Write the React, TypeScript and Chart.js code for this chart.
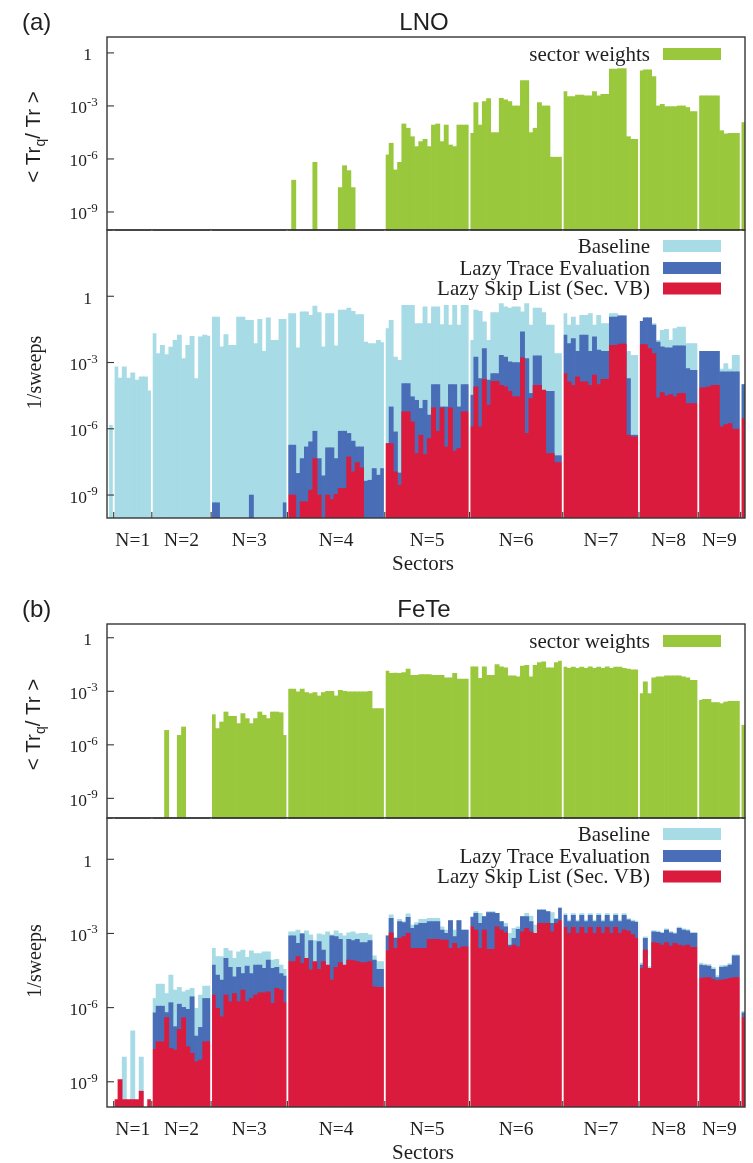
import { useEffect, useRef } from 'react';
import { Chart, registerables } from 'chart.js';

Chart.register(...registerables);

// Number of symmetry sectors in each particle-number block N = 0 … 10
const SECTOR_COUNTS = [1, 9, 14, 18, 23, 20, 22, 18, 14, 10, 1];
const SECTOR_LABELS = ['', 'N=1', 'N=2', 'N=3', 'N=4', 'N=5', 'N=6', 'N=7', 'N=8', 'N=9', ''];
const DECADES = [0, -3, -6, -9];

// ---- LNO: log10 <Tr_q / Tr> per sector (null = below range) ----
const lnoWeight: (number | null)[] = [
  null,
  null, null, null, null, null, null, null, null, null,
  null, null, null, null, null, null, null, null, null, null, null, null, null, null,
  null, null, null, null, null, null, null, null, null, null, null, null, null, null, null, null, null, null,
  null, -7.2, null, null, null, null, -6.19, null, null, null, null, null, -7.62, -6.38, -6.66, -7.62, null, null, null, null, null, null, null,
  -5.77, -5.11, -6.62, -6.19, -4.02, -4.26, -4.74, -5.3, -5.02, -4.89, -5.3, -4.08, -4.02, -5.02, -4.08, -5.21, -5.3, -4.08, -4.08, -4.08,
  -4.55, -2.81, -4.08, -2.75, -2.58, -4.51, -4.51, -2.57, -2.66, -2.75, -3.0, -3.0, -1.57, -1.57, -4.51, -4.26, -2.81, -3.0, -3.0, -5.9, -5.9, -5.9,
  -2.19, -2.47, -2.47, -2.38, -2.38, -2.43, -2.43, -2.19, -2.43, -2.34, -2.34, -0.92, -0.92, -0.89, -0.89, -4.74, -4.89, -4.89,
  -1.02, -0.96, -0.96, -1.34, -3.0, -2.91, -3.04, -3.04, -3.04, -3.0, -3.0, -3.09, -3.32, -3.32,
  -2.43, -2.43, -2.43, -2.43, -2.43, -4.4, -4.58, -4.55, -4.55, -4.55,
  -3.94,
];

// ---- LNO: log10 (1/sweeps) ----
const lnoBaseline: (number | null)[] = [
  -5.84,
  -3.2, -3.7, -3.2, -3.7, -3.47, -3.8, -3.65, -3.65, -4.28,
  -1.69, -2.59, -2.22, -2.64, -2.3, -1.99, -1.76, -2.82, -2.22, -1.81, -3.73, -1.84, -1.76, -1.8,
  -0.94, -0.94, -2.29, -1.73, -2.22, -2.22, -0.94, -0.94, -1.09, -1.09, -2.14, -1.04, -2.49, -0.98, -1.99, -1.99, -1.04, -1.04,
  -0.78, -0.78, -2.34, -0.71, -0.71, -0.86, -0.44, -0.74, -2.29, -0.78, -0.78, -2.25, -0.63, -0.63, -0.53, -0.68, -0.83, -0.83, -2.07, -2.14, -2.14, -1.99, -2.1,
  -1.46, -1.09, -2.75, -2.9, -0.41, -0.41, -0.41, -1.24, -1.24, -0.48, -1.24, -0.48, -0.48, -1.28, -0.41, -1.31, -0.41, -1.31, -0.41, -0.41,
  -1.99, -0.63, -0.68, -1.16, -1.99, -0.74, -0.74, -0.33, -0.48, -0.53, -0.48, -0.48, -0.71, -0.33, -1.31, -0.53, -0.53, -0.74, -1.31, -1.31, -2.59, -2.59,
  -0.78, -1.31, -0.94, -1.31, -0.86, -0.86, -0.78, -1.31, -0.86, -1.24, -1.24, -0.78, -0.78, -0.89, -0.89, -2.49, -2.67, -2.67,
  -1.13, -0.98, -0.98, -1.24, -1.99, -1.54, -1.5, -1.99, -1.46, -1.39, -1.39, -2.14, -2.14, -2.14,
  -2.49, -2.49, -2.49, -2.49, -2.49, -3.3, -3.05, -3.3, -2.67, -2.67,
  -4.0,
];

const lnoLazyTrace: (number | null)[] = [
  null,
  null, null, null, null, null, null, null, null, null,
  null, null, null, null, null, null, null, null, null, null, null, null, null, null,
  -9.35, -9.35, null, null, null, null, null, null, null, -9.0, null, null, null, null, null, null, null, -9.35,
  -6.74, -6.74, -8.02, -7.35, -6.82, -6.59, -6.11, -7.35, -8.13, -6.86, -6.86, -7.35, -6.11, -6.11, -6.21, -6.56, -6.82, -6.82, -8.37, -8.33, -7.8, -8.1, -7.8,
  -6.67, -5.01, -6.14, -8.0, -3.95, -3.95, -4.55, -4.71, -5.08, -4.71, -5.38, -4.0, -4.0, -5.01, -5.01, -4.0, -4.0, -5.01, -4.0, -4.0,
  -4.48, -2.75, -3.73, -2.37, -3.8, -3.5, -3.5, -2.67, -2.75, -2.97, -3.0, -3.0, -1.61, -2.82, -4.4, -2.7, -2.7, -4.33, -4.3, -4.3, -7.22, -7.22,
  -1.76, -2.14, -1.92, -2.49, -1.76, -1.76, -2.49, -1.84, -2.44, -2.49, -2.49, -0.94, -0.94, -0.89, -0.89, -3.73, -6.29, -6.29,
  -1.13, -0.98, -0.98, -1.31, -2.07, -2.29, -2.34, -2.34, -2.25, -2.25, -2.25, -3.27, -3.35, -3.35,
  -2.49, -2.49, -2.49, -2.49, -2.49, -3.42, -3.42, -3.42, -3.42, -3.42,
  -4.0,
];

const lnoLazySkip: (number | null)[] = [
  null,
  null, null, null, null, null, null, null, null, null,
  null, null, null, null, null, null, null, null, null, null, null, null, null, null,
  null, null, null, null, null, null, null, null, null, null, null, null, null, null, null, null, null, null,
  -9.0, -9.0, null, -9.3, -9.3, -8.78, -7.35, -9.0, null, -9.0, -9.2, -8.97, -8.7, -8.7, -7.27, -7.95, -7.53, -7.77, null, null, null, null, null,
  -6.67, -6.67, -7.95, -8.55, -5.23, -5.23, -5.69, -7.12, -6.29, -7.16, -6.44, -5.05, -6.11, -5.05, -6.82, -5.05, -7.01, -6.89, -5.23, -5.23,
  -5.91, -4.1, -5.91, -3.76, -4.93, -3.85, -3.85, -4.03, -4.1, -4.3, -4.55, -4.55, -2.79, -6.21, -4.63, -4.03, -4.03, -4.25, -7.12, -7.12, -7.53, -7.53,
  -3.5, -3.88, -4.03, -3.65, -3.88, -3.88, -4.03, -3.57, -4.0, -3.76, -3.76, -2.22, -2.22, -2.16, -2.16, -6.29, -6.37, -6.37,
  -2.19, -2.19, -2.37, -2.59, -4.6, -4.36, -4.51, -4.45, -4.55, -4.4, -4.4, -4.86, -4.86, -4.86,
  -4.15, -4.15, -4.1, -4.03, -4.03, -5.91, -5.81, -5.76, -6.02, -6.02,
  -5.54,
];

// ---- FeTe: log10 <Tr_q / Tr> per sector ----
const feteWeight: (number | null)[] = [
  null,
  null, null, null, null, null, null, null, null, null,
  null, null, null, -5.19, null, null, -5.47, -5.0, null, null, null, null, null, null,
  -4.31, -5.09, -4.72, -4.16, -4.4, -4.4, -4.81, -4.25, -4.53, -4.81, -4.53, -4.16, -4.34, -4.53, -4.16, -4.16, -4.2, -5.47,
  -2.88, -2.88, -3.03, -2.88, -3.07, -3.13, -3.07, -3.26, -3.07, -3.0, -3.0, -3.26, -2.94, -3.0, -3.03, -3.03, -3.03, -3.03, -3.03, -3.0, -3.97, -3.97, -3.97,
  -1.87, -2.0, -1.98, -2.0, -1.95, -1.76, -2.1, -2.1, -2.06, -2.06, -2.06, -2.1, -2.1, -2.1, -2.25, -2.25, -2.0, -2.32, -2.32, -2.32,
  -1.63, -1.63, -2.28, -1.63, -2.1, -2.1, -1.5, -1.63, -1.69, -2.13, -2.13, -2.19, -1.59, -1.54, -2.19, -1.54, -1.39, -1.35, -1.69, -1.69, -1.39, -1.31,
  -1.65, -1.72, -1.65, -1.72, -1.65, -1.72, -1.63, -1.72, -1.65, -1.72, -1.63, -1.72, -1.65, -1.65, -1.72, -1.75, -1.8, -1.8,
  -3.13, -2.47, -3.13, -2.25, -2.19, -2.19, -2.13, -2.13, -2.13, -2.13, -2.19, -2.25, -2.38, -2.38,
  -3.5, -3.45, -3.45, -3.63, -3.63, -3.69, -3.6, -3.56, -3.56, -3.56,
  -4.9,
];

// ---- FeTe: log10 (1/sweeps) ----
const feteBaseline: (number | null)[] = [
  null,
  null, null, -8.0, null, -6.94, null, -8.0, null, null,
  -5.63, -5.05, -5.05, -5.43, -4.68, -5.29, -5.18, -5.36, -5.29, -5.22, -6.03, -5.49, -5.13, -5.13,
  -3.6, -3.94, -3.94, -3.6, -3.7, -4.01, -3.74, -3.67, -3.97, -3.7, -3.81, -3.81, -3.74, -3.74, -4.08, -4.05, -4.28, -4.45,
  -2.93, -2.93, -2.86, -3.0, -2.89, -3.06, -3.29, -3.02, -3.06, -2.93, -3.06, -2.89, -3.0, -3.1, -2.97, -2.93, -3.02, -3.0, -3.0, -3.06, -3.91, -4.14, -4.14,
  -3.1, -2.25, -3.16, -2.43, -2.52, -2.21, -2.66, -2.56, -2.43, -2.43, -2.39, -2.39, -2.39, -2.73, -2.86, -2.48, -2.86, -2.48, -2.86, -2.86,
  -2.32, -2.12, -2.19, -2.32, -2.12, -2.12, -2.19, -2.52, -2.59, -3.0, -2.79, -2.73, -2.32, -2.19, -2.3, -2.66, -2.03, -2.03, -2.12, -2.16, -2.39, -1.94,
  -2.2, -2.46, -2.2, -2.46, -2.2, -2.46, -2.2, -2.46, -2.2, -2.46, -2.2, -2.46, -2.2, -2.46, -2.2, -2.4, -2.46, -2.5,
  -4.2, -3.14, -4.34, -2.88, -2.9, -2.95, -2.81, -2.92, -2.97, -2.74, -2.81, -2.84, -2.95, -2.95,
  -4.2, -4.24, -4.26, -4.38, -4.7, -4.3, -4.29, -4.22, -3.86, -3.86,
  -6.15,
];

const feteLazyTrace: (number | null)[] = [
  null,
  null, null, null, null, null, null, null, null, null,
  -6.21, -5.94, -5.94, -6.2, -5.8, -6.77, -5.86, -5.99, -6.07, -5.56, -7.15, -6.8, -5.63, -5.63,
  -4.28, -4.68, -4.89, -4.01, -4.37, -4.75, -4.37, -4.62, -4.32, -4.62, -4.28, -4.28, -4.41, -4.08, -4.41, -4.37, -4.62, -4.72,
  -3.1, -3.1, -3.4, -3.02, -4.08, -3.29, -4.89, -3.33, -3.67, -4.78, -3.1, -3.13, -3.24, -5.09, -3.24, -3.29, -3.24, -3.37, -3.37, -3.29, -4.08, -4.45, -4.45,
  -3.1, -2.39, -3.2, -2.52, -2.56, -2.35, -2.79, -2.66, -2.59, -2.59, -2.52, -2.52, -2.52, -2.86, -3.0, -2.48, -3.13, -2.48, -2.86, -2.86,
  -2.35, -2.19, -2.59, -2.32, -2.16, -2.16, -2.19, -2.52, -2.73, -3.47, -3.2, -2.83, -2.32, -2.32, -2.52, -3.4, -2.05, -2.05, -2.12, -2.59, -2.43, -1.98,
  -2.27, -2.52, -2.27, -2.52, -2.27, -2.52, -2.27, -2.52, -2.27, -2.52, -2.27, -2.52, -2.27, -2.52, -2.27, -2.45, -2.52, -2.55,
  -4.28, -3.2, -4.41, -2.93, -2.95, -3.0, -2.86, -2.97, -3.02, -2.79, -2.86, -2.89, -3.0, -3.0,
  -4.28, -4.3, -4.32, -4.45, -4.78, -4.37, -4.35, -4.28, -3.91, -3.91,
  -6.21,
];

const feteLazySkip: (number | null)[] = [
  null,
  -9.72, -8.91, -9.72, -9.72, -9.72, -9.72, -9.38, null, -9.72,
  -7.69, -7.38, -7.38, -6.4, -7.65, -7.72, -6.88, -6.41, -7.58, -7.85, -8.19, -8.12, -7.38, -7.38,
  -5.49, -6.03, -6.37, -5.49, -5.76, -5.43, -5.76, -5.29, -5.76, -5.63, -5.49, -5.4, -5.4, -5.36, -5.83, -5.22, -5.29, -5.8,
  -4.14, -4.14, -3.94, -4.21, -4.01, -4.48, -4.14, -4.45, -4.14, -4.28, -4.89, -4.37, -4.18, -4.28, -4.08, -4.1, -4.14, -4.18, -4.18, -4.14, -5.16, -5.18, -5.18,
  -3.7, -2.97, -3.6, -3.2, -3.13, -3.0, -3.6, -3.6, -3.6, -3.6, -3.24, -3.24, -3.24, -3.27, -3.27, -3.6, -3.4, -3.6, -3.54, -3.54,
  -2.73, -2.86, -3.6, -2.86, -3.64, -3.64, -2.73, -2.86, -2.97, -3.54, -3.47, -3.54, -2.93, -2.79, -2.93, -3.0, -2.59, -2.59, -2.59, -2.93, -2.59, -2.48,
  -2.75, -3.0, -2.75, -3.0, -2.75, -3.0, -2.75, -3.0, -2.75, -3.0, -2.75, -3.0, -2.75, -3.0, -2.85, -2.9, -3.05, -3.2,
  -4.41, -3.67, -4.41, -3.37, -3.4, -3.47, -3.37, -3.51, -3.4, -3.47, -3.51, -3.47, -3.56, -3.56,
  -4.82, -4.8, -4.78, -4.86, -4.91, -4.89, -4.86, -4.82, -4.78, -4.78,
  -6.4,
];

const GREEN = '#9ac83d';
const LIGHT = '#a7dbe6';
const DARK = '#4a6db7';
const RED = '#db1b3d';
const INK = '#1f1f1f';
const FRAME = '#363636';
const SERIF = '"Liberation Serif", "Times New Roman", serif';
const SANS = '"Liberation Sans", Arial, sans-serif';

const PAGE_W = 753;
const PLOT_LEFT = 107;
const PLOT_RIGHT = 745;
const X_MIN = -1.08;
const X_MAX = 149.53;

// Block edges (white separators, ticks) and block centres (labels)
const blockEdges: number[] = [];
const blockCenters: number[] = [];
{
  let start = 0;
  SECTOR_COUNTS.forEach((n, g) => {
    if (g > 0) blockEdges.push(start - 0.5);
    blockCenters.push(start + (n - 1) / 2);
    start += n;
  });
}

type Series = { label: string; color: string; exps: (number | null)[] };
type LegendEntry = { text: string; color: string };
type PanelCfg = {
  canvasTop: number;
  canvasHeight: number;
  plotTop: number;
  plotBottom: number;
  yMin: number;
  yMax: number;
  series: Series[];
  legend: LegendEntry[];
  yTitle: 'weights' | 'sweeps';
  tag?: string;
  title?: string;
  sectorAxis: boolean;
};

function toPoints(exps: (number | null)[]) {
  return exps.map((e, i) => ({ x: i, y: e === null ? null : Math.pow(10, e) }));
}

function decorPlugin(cfg: PanelCfg) {
  return {
    id: 'decor',
    afterDraw(chart: Chart) {
      const { ctx, chartArea: a } = chart;
      const xs = chart.scales.x;
      const ys = chart.scales.y;
      ctx.save();

      // white gaps between particle-number blocks
      ctx.strokeStyle = '#ffffff';
      ctx.lineWidth = 1.8;
      for (const e of blockEdges) {
        const px = xs.getPixelForValue(e);
        ctx.beginPath();
        ctx.moveTo(px, a.top);
        ctx.lineTo(px, a.bottom);
        ctx.stroke();
      }

      // frame
      ctx.strokeStyle = FRAME;
      ctx.lineWidth = 1.4;
      ctx.strokeRect(a.left, a.top, a.right - a.left, a.bottom - a.top);

      // y ticks and labels
      ctx.fillStyle = INK;
      ctx.textBaseline = 'alphabetic';
      ctx.lineWidth = 1.1;
      for (const p of DECADES) {
        const py = ys.getPixelForValue(Math.pow(10, p));
        ctx.beginPath();
        ctx.moveTo(a.left, py);
        ctx.lineTo(a.left + 7, py);
        ctx.stroke();
        ctx.font = `17.5px ${SERIF}`;
        ctx.textAlign = 'right';
        if (p === 0) {
          ctx.fillText('1', a.left - 15, py + 7.5);
        } else {
          ctx.fillText('10', a.left - 20, py + 7.5);
          ctx.font = `13px ${SERIF}`;
          ctx.textAlign = 'left';
          ctx.fillText(String(p), a.left - 20, py);
        }
      }

      // sector axis: ticks at block edges, N labels at block centres
      if (cfg.sectorAxis) {
        for (const e of blockEdges) {
          const px = xs.getPixelForValue(e);
          ctx.beginPath();
          ctx.moveTo(px, a.bottom);
          ctx.lineTo(px, a.bottom - 6);
          ctx.stroke();
        }
        ctx.font = `19.5px ${SERIF}`;
        ctx.textAlign = 'center';
        SECTOR_LABELS.forEach((lab, g) => {
          if (!lab) return;
          ctx.fillText(lab, xs.getPixelForValue(blockCenters[g]), a.bottom + 28);
        });
        ctx.font = `21px ${SERIF}`;
        ctx.fillText('Sectors', (a.left + a.right) / 2 - 3, a.bottom + 52);
      }

      // legend: right-aligned text, swatch to the right
      const rows = cfg.legend.length === 1 ? [17] : [16, 38, 58.5];
      cfg.legend.forEach((item, i) => {
        const cy = a.top + rows[i];
        ctx.font = `21px ${SERIF}`;
        ctx.textAlign = 'right';
        ctx.fillStyle = INK;
        ctx.fillText(item.text, a.right - 95, cy + 6.5);
        ctx.fillStyle = item.color;
        ctx.fillRect(a.right - 82, cy - 6, 58, 12);
      });

      // y-axis title
      ctx.fillStyle = INK;
      const mid = (a.top + a.bottom) / 2;
      if (cfg.yTitle === 'weights') {
        ctx.save();
        ctx.translate(39.5, mid + 3.5);
        ctx.rotate(-Math.PI / 2);
        const parts = [
          { t: '< Tr', f: `20.5px ${SANS}`, dy: 0 },
          { t: 'q', f: `14px ${SANS}`, dy: 5 },
          { t: '/ Tr >', f: `20.5px ${SANS}`, dy: 0 },
        ];
        let w = 0;
        for (const pt of parts) {
          ctx.font = pt.f;
          w += ctx.measureText(pt.t).width;
        }
        let x = -w / 2;
        ctx.textAlign = 'left';
        for (const pt of parts) {
          ctx.font = pt.f;
          ctx.fillText(pt.t, x, pt.dy);
          x += ctx.measureText(pt.t).width;
        }
        ctx.restore();
      } else {
        ctx.save();
        ctx.translate(40.5, mid - 1.5);
        ctx.rotate(-Math.PI / 2);
        ctx.font = `20px ${SERIF}`;
        ctx.textAlign = 'center';
        ctx.fillText('1/sweeps', 0, 0);
        ctx.restore();
      }

      // panel tag and material name
      if (cfg.tag) {
        ctx.font = `24px ${SANS}`;
        ctx.textAlign = 'left';
        ctx.fillText(cfg.tag, 22, a.top - 7);
      }
      if (cfg.title) {
        ctx.font = `24px ${SANS}`;
        ctx.textAlign = 'center';
        ctx.fillText(cfg.title, (a.left + a.right) / 2 - 2, a.top - 7);
      }
      ctx.restore();
    },
  };
}

function Panel({ cfg }: { cfg: PanelCfg }) {
  const ref = useRef<HTMLCanvasElement>(null);
  useEffect(() => {
    if (!ref.current) return;
    const chart = new Chart(ref.current, {
      type: 'bar',
      data: {
        datasets: cfg.series.map((s) => ({
          label: s.label,
          data: toPoints(s.exps) as any,
          backgroundColor: s.color,
          borderWidth: 0,
          grouped: false,
          barPercentage: 1,
          categoryPercentage: 1,
        })),
      },
      options: {
        responsive: false,
        animation: false,
        events: [],
        layout: {
          padding: {
            left: PLOT_LEFT,
            right: PAGE_W - PLOT_RIGHT,
            top: cfg.plotTop - cfg.canvasTop,
            bottom: cfg.canvasTop + cfg.canvasHeight - cfg.plotBottom,
          },
        },
        scales: {
          x: { type: 'linear', min: X_MIN, max: X_MAX, bounds: 'data', offset: false, display: false },
          y: {
            type: 'logarithmic',
            min: Math.pow(10, cfg.yMin),
            max: Math.pow(10, cfg.yMax),
            bounds: 'data',
            display: false,
          },
        },
        plugins: { legend: { display: false }, tooltip: { enabled: false }, title: { display: false } },
      },
      plugins: [decorPlugin(cfg)],
    });
    return () => chart.destroy();
  }, [cfg]);
  return (
    <canvas
      ref={ref}
      width={PAGE_W}
      height={cfg.canvasHeight}
      style={{ position: 'absolute', left: 0, top: cfg.canvasTop, width: PAGE_W, height: cfg.canvasHeight, display: 'block' }}
    />
  );
}

const sweepLegend: LegendEntry[] = [
  { text: 'Baseline', color: LIGHT },
  { text: 'Lazy Trace Evaluation', color: DARK },
  { text: 'Lazy Skip List (Sec. VB)', color: RED },
];

const PANELS: PanelCfg[] = [
  {
    canvasTop: 0, canvasHeight: 232, plotTop: 37, plotBottom: 230, yMin: -10.02, yMax: 0.9,
    series: [{ label: 'sector weights', color: GREEN, exps: lnoWeight }],
    legend: [{ text: 'sector weights', color: GREEN }],
    yTitle: 'weights', tag: '(a)', title: 'LNO', sectorAxis: false,
  },
  {
    canvasTop: 229, canvasHeight: 351, plotTop: 230, plotBottom: 518, yMin: -10.04, yMax: 3.0,
    series: [
      { label: 'Lazy Skip List (Sec. VB)', color: RED, exps: lnoLazySkip },
      { label: 'Lazy Trace Evaluation', color: DARK, exps: lnoLazyTrace },
      { label: 'Baseline', color: LIGHT, exps: lnoBaseline },
    ],
    legend: sweepLegend, yTitle: 'sweeps', sectorAxis: true,
  },
  {
    canvasTop: 585, canvasHeight: 234, plotTop: 624, plotBottom: 818, yMin: -10.1, yMax: 0.77,
    series: [{ label: 'sector weights', color: GREEN, exps: feteWeight }],
    legend: [{ text: 'sector weights', color: GREEN }],
    yTitle: 'weights', tag: '(b)', title: 'FeTe', sectorAxis: false,
  },
  {
    canvasTop: 817, canvasHeight: 346, plotTop: 818, plotBottom: 1107, yMin: -10.02, yMax: 1.67,
    series: [
      { label: 'Lazy Skip List (Sec. VB)', color: RED, exps: feteLazySkip },
      { label: 'Lazy Trace Evaluation', color: DARK, exps: feteLazyTrace },
      { label: 'Baseline', color: LIGHT, exps: feteBaseline },
    ],
    legend: sweepLegend, yTitle: 'sweeps', sectorAxis: true,
  },
];

export default function App() {
  return (
    <div style={{ position: 'absolute', left: 0, top: 0, width: PAGE_W, height: 1163, background: '#ffffff' }}>
      {PANELS.map((p, i) => (
        <Panel key={i} cfg={p} />
      ))}
    </div>
  );
}
